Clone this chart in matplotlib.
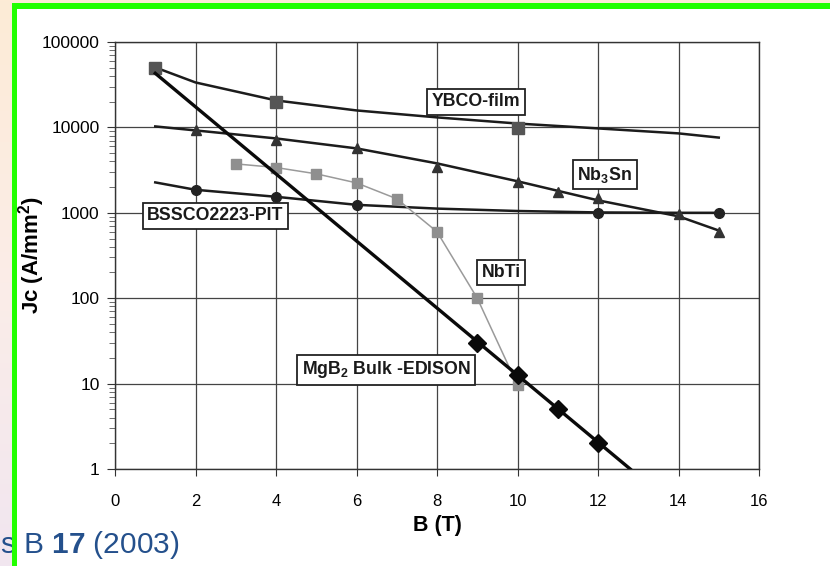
import matplotlib
matplotlib.use('Agg')
import matplotlib.pyplot as plt
from matplotlib.patches import Rectangle
import numpy as np

plt.rcParams['font.family'] = ['Liberation Sans', 'DejaVu Sans']
plt.rcParams['mathtext.fontset'] = 'custom'
plt.rcParams['mathtext.rm'] = 'Liberation Sans'
plt.rcParams['mathtext.bf'] = 'Liberation Sans:bold'
plt.rcParams['mathtext.it'] = 'Liberation Sans:italic'

# values (B in T, Jc in A/mm2)
ybco_b = [1, 4, 10]
ybco_jc = [50000, 20000, 9800]
ybco_fit_b = [1, 2, 4, 6, 8, 10, 12, 14, 15]
ybco_fit_jc = [50400, 33600, 20700, 15800, 13100, 11100, 9730, 8510, 7600]

nb3sn_b = [2, 4, 6, 8, 10, 11, 12, 14, 15]
nb3sn_jc = [9200, 7050, 5680, 3400, 2270, 1740, 1480, 960, 590]
nb3sn_fit_b = [1, 4, 6, 8, 10, 12, 14, 15]
nb3sn_fit_jc = [10270, 7430, 5680, 3790, 2340, 1400, 910, 620]

bscco_b = [2, 4, 6, 12, 15]
bscco_jc = [1860, 1540, 1240, 1000, 1000]
bscco_fit_b = [1, 2, 4, 6, 8, 10, 12, 14, 15]
bscco_fit_jc = [2270, 1860, 1540, 1240, 1120, 1050, 1010, 1000, 1000]

nbti_b = [3, 4, 5, 6, 7, 8, 9, 10]
nbti_jc = [3740, 3390, 2860, 2240, 1460, 600, 100, 9.6]

mgb2_b = [9, 10, 11, 12]
mgb2_jc = [30, 12.7, 5, 2]
mgb2_fit_b = [1, 12.8]
mgb2_fit_jc = [43000, 1]

labels = ['YBCO-film', r'Nb$_\mathbf{3}$Sn', 'BSSCO2223-PIT', 'NbTi',
          r'MgB$_\mathbf{2}$ Bulk -EDISON']
x_ticks = list(range(0, 17, 2))
y_ticks = [1, 10, 100, 1000, 10000, 100000]

W, H = 830, 566
fig = plt.figure(figsize=(W / 100, H / 100), dpi=100)

# slide background behind the pasted scan
bg = fig.add_axes([0, 0, 1, 1], zorder=0)
grad = np.linspace(0, 1, 200)[:, None]
cmap = matplotlib.colors.LinearSegmentedColormap.from_list(
    'slide', ['#fdebd6', '#fbede8', '#f1e6f0'])
bg.imshow(grad, cmap=cmap, aspect='auto', extent=[0, W, 0, H])
bg.add_patch(Rectangle((12, 0), W - 12, H - 3, fc='white', ec='none'))
bg.set_xlim(0, W)
bg.set_ylim(0, H)
bg.axis('off')

ax = fig.add_axes([115 / W, 1 - 469 / H, (759 - 115) / W, (469 - 42) / H], zorder=1)
ax.set_facecolor('none')
ax.set_yscale('log')
ax.set_xlim(0, 16)
ax.set_ylim(1, 100000)

dark = '#1c1c1c'
ax.plot(ybco_fit_b, ybco_fit_jc, color=dark, lw=1.8, zorder=3)
ax.plot(ybco_b, ybco_jc, ls='none', marker='s', ms=8, color='#555555', zorder=4)
ax.plot(nb3sn_fit_b, nb3sn_fit_jc, color=dark, lw=1.8, zorder=3)
ax.plot(nb3sn_b, nb3sn_jc, ls='none', marker='^', ms=7, color='#333333', zorder=4)
ax.plot(bscco_fit_b, bscco_fit_jc, color=dark, lw=1.8, zorder=3)
ax.plot(bscco_b, bscco_jc, ls='none', marker='o', ms=7, color='#222222', zorder=4)
ax.plot(nbti_b, nbti_jc, color='#9a9a9a', lw=1.1, marker='s', ms=7,
        mfc='#8f8f8f', mec='#8f8f8f', zorder=3)
ax.plot(mgb2_fit_b, mgb2_fit_jc, color='#0a0a0a', lw=2.4, zorder=4)
ax.plot(mgb2_b, mgb2_jc, ls='none', marker='D', ms=9, color='#0a0a0a', zorder=5)

label_pos = [(8.97, 20000), (12.17, 2780), (2.49, 920), (9.6, 200), (6.74, 14.6)]
for txt, (bx, jy) in zip(labels, label_pos):
    ax.text(bx, jy, txt, ha='center', va='center', fontsize=12.8, fontweight='bold',
            color='#1a1a1a', zorder=6,
            bbox=dict(boxstyle='square,pad=0.25', fc='white', ec='#222222', lw=1.3))

ax.set_xticks(x_ticks)
ax.set_xticklabels([str(t) for t in x_ticks])
ax.set_yticks(y_ticks)
ax.set_yticklabels([str(t) for t in y_ticks])
ax.grid(True, which='major', color='#444444', lw=0.9)
ax.set_axisbelow(True)
for s in ax.spines.values():
    s.set_color('#333333')
    s.set_linewidth(1.0)
ax.tick_params(axis='x', direction='out', length=5, pad=13, labelsize=12,
               color='#333333')
ax.tick_params(axis='y', which='major', direction='out', length=6, pad=5,
               labelsize=12.5, color='#333333')
ax.tick_params(axis='y', which='minor', direction='out', length=4, color='#555555')
ax.set_xlabel('B (T)', fontsize=15.5, fontweight='bold', labelpad=4)
ax.set_ylabel(r'Jc (A/mm$^\mathbf{2}$)', fontsize=16, fontweight='bold')
ax.yaxis.set_label_coords(-0.106, 0.5)

fig.text(0, 1 - 553 / H, r's B $\mathbf{17}$ (2003)', fontsize=21.5,
         color='#24508c', ha='left', va='baseline', zorder=3)

# green frame of the slide
green = '#22ff00'
fig.add_artist(Rectangle((12 / W, 0), 5 / W, (H - 3) / H, transform=fig.transFigure,
                         fc=green, ec='none', zorder=10))
fig.add_artist(Rectangle((12 / W, (H - 9) / H), (W - 12) / W, 6 / H,
                         transform=fig.transFigure, fc=green, ec='none', zorder=10))

fig.savefig('out.png', dpi=100)
